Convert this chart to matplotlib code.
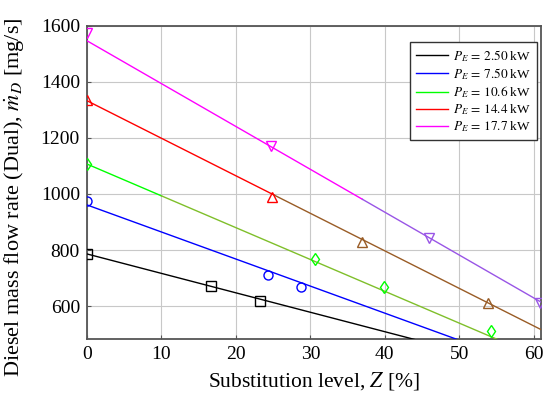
import matplotlib
matplotlib.use("Agg")
import matplotlib.pyplot as plt
import numpy as np

plt.rcParams['font.family'] = ['Liberation Serif', 'DejaVu Serif']
plt.rcParams['mathtext.fontset'] = 'stix'

# Series labels
labels = [r"$P_E\,=\,2.50$ kW", r"$P_E\,=\,7.50$ kW", r"$P_E\,=\,10.6$ kW",
          r"$P_E\,=\,14.4$ kW", r"$P_E\,=\,17.7$ kW"]
colors = ["black", "#0000ff", "#00ff00", "#ff0000", "#ff00ff"]
markers = ["s", "o", "d", "^", "v"]

# Measured points (Z [%], m_D [mg/s])
z_black = [0.0, 16.6, 23.3]
m_black = [786, 673, 619]
z_blue = [0.0, 24.25, 28.7]
m_blue = [975, 711, 669]
z_green = [0.0, 30.6, 39.9, 54.3]
m_green = [1107, 768, 667, 511]
z_red = [0.0, 24.8, 37.0, 53.9]
m_red = [1336, 988, 830, 612]
z_mag = [0.0, 24.7, 45.9, 60.8]
m_mag = [1575, 1173, 842, 612]

# Linear fits (intercept, slope)
fit_intercepts = [786, 961, 1107, 1333, 1547]
fit_slopes = [-6.94, -9.66, -11.36, -13.4, -15.3]

# Rendering colour shifts seen in the reference (Z where colour changes, new colour)
shift_z = [None, None, 10.0, 25.2, 37.0]
shift_col = [None, None, "#7fbf2a", "#995c26", "#9955e6"]

zs = [z_black, z_blue, z_green, z_red, z_mag]
ms = [m_black, m_blue, m_green, m_red, m_mag]

fig = plt.figure(figsize=(5.5, 3.98), dpi=100)
ax = fig.add_axes([0.158, 0.148, 0.826, 0.787])

xmin, xmax = 0, 61
for i in range(5):
    b, a = fit_intercepts[i], fit_slopes[i]
    sz = shift_z[i]
    if sz is None:
        xx = np.array([xmin, xmax])
        ax.plot(xx, b + a * xx, color=colors[i], lw=1.0, label=labels[i], zorder=3)
    else:
        x1 = np.array([xmin, sz])
        x2 = np.array([sz, xmax])
        ax.plot(x1, b + a * x1, color=colors[i], lw=1.0, label=labels[i], zorder=3)
        ax.plot(x2, b + a * x2, color=shift_col[i], lw=1.0, zorder=3)
    for z, m in zip(zs[i], ms[i]):
        c = colors[i]
        if sz is not None and z > sz and i != 2:
            c = shift_col[i]
        ax.plot([z], [m], marker=markers[i], ms=6.5, mfc='none', mec=c,
                mew=1.0, ls='none', zorder=4)

ax.set_xlim(xmin, xmax)
ax.set_ylim(482, 1600)
ax.set_xticks([0, 10, 20, 30, 40, 50, 60])
ax.set_yticks([600, 800, 1000, 1200, 1400, 1600])
ax.grid(True, color="#c8c8c8", lw=0.8)
ax.set_axisbelow(True)
for s in ax.spines.values():
    s.set_color("#555555")
    s.set_linewidth(1.3)
ax.tick_params(direction='in', length=3, color="#555555", labelsize=14, pad=5)

ax.set_xlabel(r"Substitution level, $Z$ [%]", fontsize=15.5)
ax.xaxis.set_label_coords(0.5, -0.1)
ax.set_ylabel(r"Diesel mass flow rate (Dual), $\dot{m}_D$ [mg/s]", fontsize=16)
ax.yaxis.set_label_coords(-0.133, 0.454)

leg = ax.legend(loc="upper right", fontsize=9.5, frameon=True, fancybox=False,
                edgecolor="#333333", framealpha=1, handlelength=2.4,
                borderpad=0.45, labelspacing=0.18, handletextpad=0.4,
                bbox_to_anchor=(0.991, 0.949), borderaxespad=0)
leg.get_frame().set_linewidth(1.0)

fig.savefig("out.png", dpi=100)
